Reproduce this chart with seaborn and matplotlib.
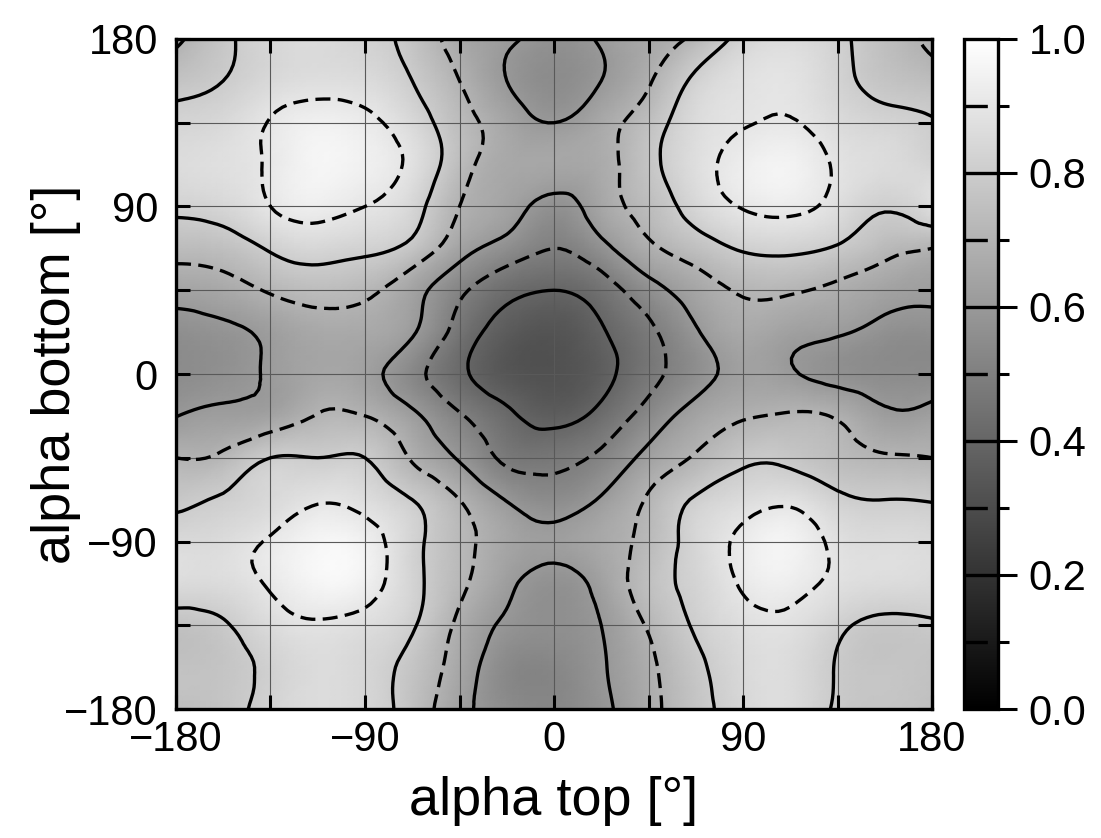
import numpy as np
import matplotlib
matplotlib.use("Agg")
import matplotlib.pyplot as plt
import matplotlib.tri as mtri
from matplotlib.ticker import MultipleLocator, FixedLocator
import seaborn as sns

# grid nodes (degrees)
alpha_top = [-180, -157.5, -135, -112.5, -90, -67.5, -45, -22.5, 0,
             22.5, 45, 67.5, 90, 112.5, 135, 157.5, 180]
alpha_bottom = [-180, -157.5, -135, -112.5, -90, -67.5, -45, -22.5, 0,
                22.5, 45, 67.5, 90, 112.5, 135, 157.5, 180]

# normalised value at each node, one row per alpha bottom, columns follow alpha_top
row_p180 = [0.68, 0.78, 0.84, 0.86, 0.83, 0.77, 0.66, 0.615, 0.57, 0.61, 0.66, 0.72, 0.83, 0.86, 0.82, 0.75, 0.68]
row_p157 = [0.765, 0.80, 0.85, 0.87, 0.86, 0.80, 0.70, 0.60, 0.55, 0.60, 0.69, 0.82, 0.88, 0.89, 0.83, 0.77, 0.74]
row_p135 = [0.83, 0.85, 0.905, 0.94, 0.92, 0.85, 0.74, 0.65, 0.60, 0.66, 0.75, 0.86, 0.895, 0.905, 0.86, 0.83, 0.805]
row_p112 = [0.86, 0.875, 0.91, 0.96, 0.94, 0.88, 0.74, 0.66, 0.65, 0.67, 0.77, 0.87, 0.93, 0.95, 0.89, 0.86, 0.83]
row_p90 = [0.82, 0.84, 0.90, 0.93, 0.90, 0.84, 0.70, 0.64, 0.57, 0.65, 0.74, 0.84, 0.905, 0.92, 0.87, 0.81, 0.87]
row_p67 = [0.735, 0.75, 0.81, 0.84, 0.82, 0.77, 0.64, 0.56, 0.50, 0.57, 0.68, 0.75, 0.81, 0.82, 0.79, 0.73, 0.70]
row_p45 = [0.64, 0.66, 0.71, 0.74, 0.72, 0.64, 0.52, 0.43, 0.40, 0.45, 0.56, 0.65, 0.71, 0.71, 0.68, 0.64, 0.62]
row_p22 = [0.56, 0.58, 0.62, 0.66, 0.66, 0.61, 0.46, 0.36, 0.33, 0.39, 0.48, 0.59, 0.66, 0.63, 0.61, 0.57, 0.56]
row_0 = [0.55, 0.57, 0.61, 0.65, 0.63, 0.535, 0.42, 0.34, 0.32, 0.37, 0.47, 0.56, 0.63, 0.61, 0.57, 0.55, 0.55]
row_m22 = [0.598, 0.62, 0.64, 0.705, 0.70, 0.62, 0.51, 0.42, 0.37, 0.43, 0.54, 0.64, 0.69, 0.71, 0.69, 0.62, 0.63]
row_m45 = [0.70, 0.72, 0.80, 0.80, 0.80, 0.69, 0.59, 0.48, 0.47, 0.52, 0.63, 0.71, 0.78, 0.78, 0.74, 0.71, 0.70]
row_m67 = [0.78, 0.81, 0.85, 0.89, 0.87, 0.80, 0.70, 0.595, 0.55, 0.61, 0.71, 0.81, 0.86, 0.88, 0.82, 0.80, 0.795]
row_m90 = [0.85, 0.86, 0.91, 0.96, 0.94, 0.83, 0.73, 0.65, 0.62, 0.66, 0.73, 0.84, 0.92, 0.95, 0.88, 0.86, 0.85]
row_m112 = [0.86, 0.86, 0.91, 0.96, 0.94, 0.83, 0.72, 0.62, 0.57, 0.63, 0.75, 0.83, 0.91, 0.93, 0.88, 0.86, 0.85]
row_m135 = [0.76, 0.79, 0.86, 0.89, 0.87, 0.81, 0.68, 0.585, 0.56, 0.60, 0.71, 0.81, 0.87, 0.88, 0.82, 0.78, 0.79]
row_m157 = [0.76, 0.77, 0.82, 0.86, 0.84, 0.77, 0.655, 0.54, 0.53, 0.59, 0.68, 0.78, 0.85, 0.86, 0.795, 0.77, 0.76]
row_m180 = [0.75, 0.77, 0.83, 0.86, 0.84, 0.76, 0.63, 0.555, 0.53, 0.58, 0.67, 0.77, 0.84, 0.86, 0.79, 0.77, 0.75]

contour_levels = [0.1, 0.2, 0.3, 0.4, 0.5, 0.6, 0.7, 0.8, 0.9]
cbar_ticks = [0.0, 0.2, 0.4, 0.6, 0.8, 1.0]
axis_ticks = [-180, -90, 0, 90, 180]

Z = np.array([row_m180, row_m157, row_m135, row_m112, row_m90, row_m67, row_m45,
              row_m22, row_0, row_p22, row_p45, row_p67, row_p90, row_p112,
              row_p135, row_p157, row_p180])

sns.set_theme(style="ticks")
plt.rcParams['font.family'] = ['Liberation Sans', 'DejaVu Sans']
plt.rcParams['axes.unicode_minus'] = True
for key in ['text.color', 'axes.labelcolor', 'xtick.color', 'ytick.color']:
    plt.rcParams[key] = 'black'

# triangulate the regular grid (two triangles per cell) and smooth it
X, Y = np.meshgrid(alpha_top, alpha_bottom)
nx, ny = len(alpha_top), len(alpha_bottom)
tris = []
for j in range(ny - 1):
    for i in range(nx - 1):
        a = j * nx + i
        tris.append([a, a + 1, a + nx + 1])
        tris.append([a, a + nx + 1, a + nx])
triang = mtri.Triangulation(X.ravel(), Y.ravel(), np.array(tris))
refiner = mtri.UniformTriRefiner(triang)
tri_f, z_f = refiner.refine_field(Z.ravel(), subdiv=3)

cmap = sns.color_palette("gray", as_cmap=True)

fig = plt.figure(figsize=(11.01, 8.38), dpi=100)
ax = fig.add_axes([176 / 1101, 129 / 838, 756 / 1101, 670 / 838])
cax = fig.add_axes([964 / 1101, 129 / 838, 34 / 1101, 670 / 838])

img = ax.tripcolor(tri_f, z_f, shading='gouraud', cmap=cmap, vmin=0, vmax=1,
                   rasterized=True, zorder=1)

styles = ['solid' if round(lv * 10) % 2 == 0 else (0, (4.5, 2.2)) for lv in contour_levels]
cs = ax.tricontour(tri_f, z_f, levels=contour_levels, colors='black',
                   linewidths=2.4, linestyles=styles, zorder=3)

ax.set_xlim(-180, 180)
ax.set_ylim(-180, 180)
ax.set_xticks(axis_ticks)
ax.set_yticks(axis_ticks)
ax.xaxis.set_minor_locator(MultipleLocator(45))
ax.yaxis.set_minor_locator(MultipleLocator(45))
ax.set_axisbelow(False)
ax.grid(True, which='both', color='0.35', linewidth=0.8)
ax.tick_params(which='both', direction='in', top=True, right=True,
               length=10, width=2.2, color='black')
ax.tick_params(axis='x', which='major', labelsize=30, pad=8)
ax.tick_params(axis='y', which='major', labelsize=30, pad=13)
for sp in ax.spines.values():
    sp.set_linewidth(2.4)
    sp.set_color('black')
    sp.set_zorder(4)

ax.set_xlabel('alpha top [°]', fontsize=39)
ax.set_ylabel('alpha bottom [°]', fontsize=39)
ax.xaxis.set_label_coords(0.5, -0.1)
ax.yaxis.set_label_coords(-0.125, 0.5)

# colorbar with the contour levels marked on it
cbar = fig.colorbar(img, cax=cax)
cbar.add_lines(cs)
cb_styles = ['solid' if round(lv * 10) % 2 == 0 else (0, (7, 30)) for lv in contour_levels]
cbar.lines[-1].set_linestyles(cb_styles)
cbar.set_ticks(cbar_ticks)
cbar.ax.yaxis.set_minor_locator(FixedLocator([0.1, 0.3, 0.5, 0.7, 0.9]))
cbar.ax.tick_params(which='major', direction='out', length=14, width=2.2,
                    labelsize=30, pad=8, color='black')
cbar.ax.tick_params(which='minor', direction='out', length=8, width=2.2, color='black')
cbar.outline.set_linewidth(2.4)
cbar.outline.set_edgecolor('black')

fig.savefig('out.png', dpi=100)
